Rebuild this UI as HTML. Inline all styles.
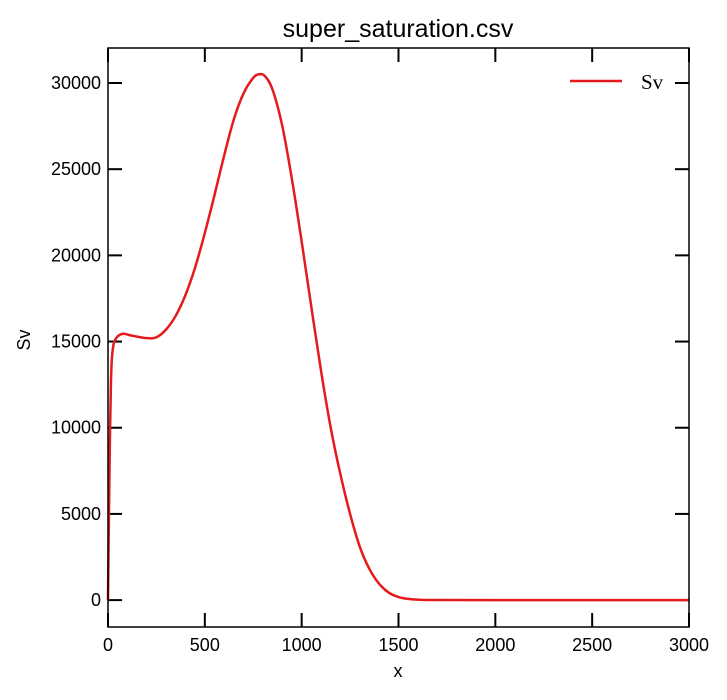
<!DOCTYPE html>
<html><head><meta charset="utf-8"><style>
body{margin:0;background:#fff;}
svg text{font-family:"Liberation Sans",Arial,sans-serif;fill:#000;}
</style></head><body>
<svg id="chart" width="727" height="695">
<text x="398" y="37" font-size="25" text-anchor="middle">super_saturation.csv</text>
<g id="ticks"></g>
<path id="line" fill="none" stroke="#e41a1c" stroke-width="2.5"/>
<rect x="108" y="48" width="581" height="579" fill="none" stroke="#000" stroke-width="1.5"/>
<line x1="570" y1="81" x2="622" y2="81" stroke="#e41a1c" stroke-width="2.5"/>
<text x="641" y="89" font-size="21" style="font-family:'Liberation Serif',serif">Sv</text>
<text x="398" y="677" font-size="18" text-anchor="middle">x</text>
<text x="30" y="340" font-size="18" text-anchor="middle" transform="rotate(-90 30 340)">Sv</text>
</svg>
<script>
const xs=[0,5,10,15,20,30,50,80,120,200,250,300,350,400,450,500,550,600,650,700,750,780,810,850,900,950,1000,1050,1100,1150,1200,1250,1300,1350,1400,1450,1500,1550,1600,1700,2000,3000];
const ys=[0,5000,9500,12500,14000,14900,15300,15450,15350,15200,15250,15700,16500,17700,19300,21300,23500,25800,27900,29400,30300,30500,30400,29600,27500,24400,20800,17000,13300,10000,7300,5000,3100,1800,950,430,180,70,25,5,0,0];
const xTicks=[0,500,1000,1500,2000,2500,3000];
const yTicks=[0,5000,10000,15000,20000,25000,30000];
const L=108,R=689,T=48,B=627,xmin=0,xmax=3000,ymin=-1560,ymax=32030;
const X=v=>L+(v-xmin)/(xmax-xmin)*(R-L);
const Y=v=>B-(v-ymin)/(ymax-ymin)*(B-T);
const NS='http://www.w3.org/2000/svg';
const g=document.getElementById('ticks');
function mk(tag,a){const e=document.createElementNS(NS,tag);for(const k in a)e.setAttribute(k,a[k]);g.appendChild(e);return e;}
xTicks.forEach(v=>{const x=X(v);
 const t1=mk('line',{x1:x,x2:x,y1:B,y2:B-14,stroke:'#000','stroke-width':2});
 
 
 const t2=mk('line',{x1:x,x2:x,y1:T,y2:T+14,stroke:'#000','stroke-width':2});
 
 
 const tx=mk('text',{x:x,y:B+24,'font-size':18,'text-anchor':'middle'});tx.textContent=v;
 
 
});
yTicks.forEach(v=>{const y=Y(v);
 const t1=mk('line',{x1:L,x2:L+14,y1:y,y2:y,stroke:'#000','stroke-width':2});
 
 
 const t2=mk('line',{x1:R,x2:R-14,y1:y,y2:y,stroke:'#000','stroke-width':2});
 
 
 const tx=mk('text',{x:L-7,y:y+6,'font-size':18,'text-anchor':'end'});tx.textContent=v;
 
 
});
const P=xs.map((v,i)=>[X(v),Y(ys[i])]);
let d='M'+P[0][0]+','+P[0][1];
for(let i=0;i<P.length-1;i++){const p0=P[Math.max(i-1,0)],p1=P[i],p2=P[i+1],p3=P[Math.min(i+2,P.length-1)];
 const c1=[p1[0]+(p2[0]-p0[0])/6,p1[1]+(p2[1]-p0[1])/6],c2=[p2[0]-(p3[0]-p1[0])/6,p2[1]-(p3[1]-p1[1])/6];
 d+=` C${c1[0]},${c1[1]} ${c2[0]},${c2[1]} ${p2[0]},${p2[1]}`;}
document.getElementById('line').setAttribute('d',d);
</script>
</body></html>
